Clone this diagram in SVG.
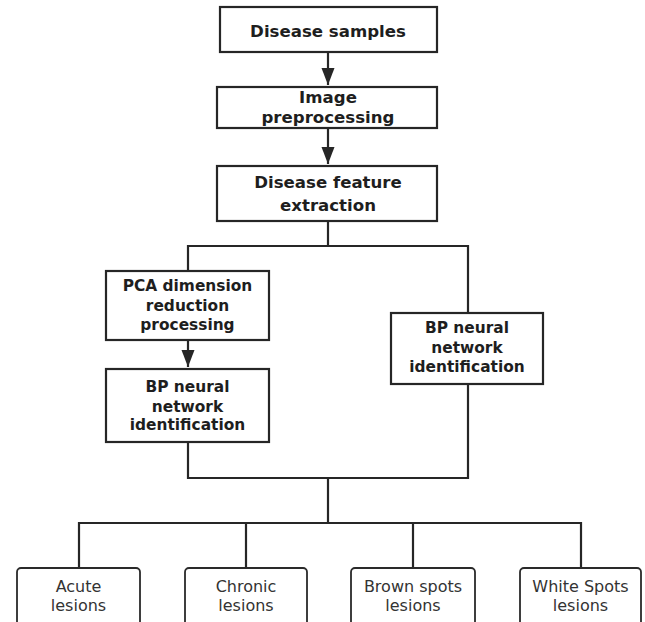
<svg xmlns="http://www.w3.org/2000/svg" width="645" height="622" viewBox="0 0 645 622">
<style>
.box{fill:#fff;stroke:#262626;stroke-width:2.2}
.rbox{fill:#fff;stroke:#2a2a2a;stroke-width:1.8}
.ln{fill:none;stroke:#262626;stroke-width:2.2}
.t1{font-family:"DejaVu Sans",sans-serif;font-weight:bold;font-size:16.6px;fill:#1e1e1e;text-anchor:middle}
.t2{font-family:"DejaVu Sans",sans-serif;font-weight:bold;font-size:15.4px;fill:#1e1e1e;text-anchor:middle}
.t3{font-family:"DejaVu Sans",sans-serif;font-size:16px;fill:#333;text-anchor:middle}
</style>
<defs>
<marker id="ah" markerUnits="userSpaceOnUse" markerWidth="18" markerHeight="14" refX="17" refY="6.5" orient="auto">
<path d="M0,0 L17,6.5 L0,13 Z" fill="#262626"/>
</marker>
</defs>
<rect width="645" height="622" fill="#fff"/>
<g id="connectors">
<line class="ln" x1="328" y1="52" x2="328" y2="85" marker-end="url(#ah)"/>
<line class="ln" x1="328" y1="128" x2="328" y2="164" marker-end="url(#ah)"/>
<polyline class="ln" points="328,221 328,246"/>
<polyline class="ln" points="188,271 188,246 468,246 468,313"/>
<line class="ln" x1="188" y1="340" x2="188" y2="367" marker-end="url(#ah)"/>
<polyline class="ln" points="188,442 188,478 468,478 468,384"/>
<polyline class="ln" points="328,478 328,523"/>
<polyline class="ln" points="79,568 79,523 581,523 581,568"/>
<line class="ln" x1="246" y1="523" x2="246" y2="568"/>
<line class="ln" x1="413" y1="523" x2="413" y2="568"/>
</g>
<g id="n1"><rect class="box" x="220" y="7" width="217" height="45"/><text class="t1" x="328" y="37">Disease samples</text></g>
<g id="n2"><rect class="box" x="217" y="87" width="220" height="41"/><text class="t1" x="328" y="103">Image</text><text class="t1" x="328" y="123">preprocessing</text></g>
<g id="n3"><rect class="box" x="217" y="166" width="220" height="55"/><text class="t1" x="328" y="188">Disease feature</text><text class="t1" x="328" y="211">extraction</text></g>
<g id="n4"><rect class="box" x="106" y="271" width="163" height="69"/><text class="t2" x="187.5" y="291">PCA dimension</text><text class="t2" x="187.5" y="311">reduction</text><text class="t2" x="187.5" y="330">processing</text></g>
<g id="n5"><rect class="box" x="106" y="369" width="163" height="73"/><text class="t2" x="187.5" y="392">BP neural</text><text class="t2" x="187.5" y="412">network</text><text class="t2" x="187.5" y="430">identification</text></g>
<g id="n6"><rect class="box" x="391" y="313" width="152" height="71"/><text class="t2" x="467" y="333">BP neural</text><text class="t2" x="467" y="353">network</text><text class="t2" x="467" y="372">identification</text></g>
<g id="n7"><rect class="rbox" x="17" y="568" width="123" height="64" rx="4"/><text class="t3" x="78.5" y="592">Acute</text><text class="t3" x="78.5" y="611">lesions</text></g>
<g id="n8"><rect class="rbox" x="185" y="568" width="122" height="64" rx="4"/><text class="t3" x="246" y="592">Chronic</text><text class="t3" x="246" y="611">lesions</text></g>
<g id="n9"><rect class="rbox" x="351" y="568" width="124" height="64" rx="4"/><text class="t3" x="413" y="592">Brown spots</text><text class="t3" x="413" y="611">lesions</text></g>
<g id="n10"><rect class="rbox" x="520" y="568" width="121" height="64" rx="4"/><text class="t3" x="580.5" y="592">White Spots</text><text class="t3" x="580.5" y="611">lesions</text></g>
</svg>
